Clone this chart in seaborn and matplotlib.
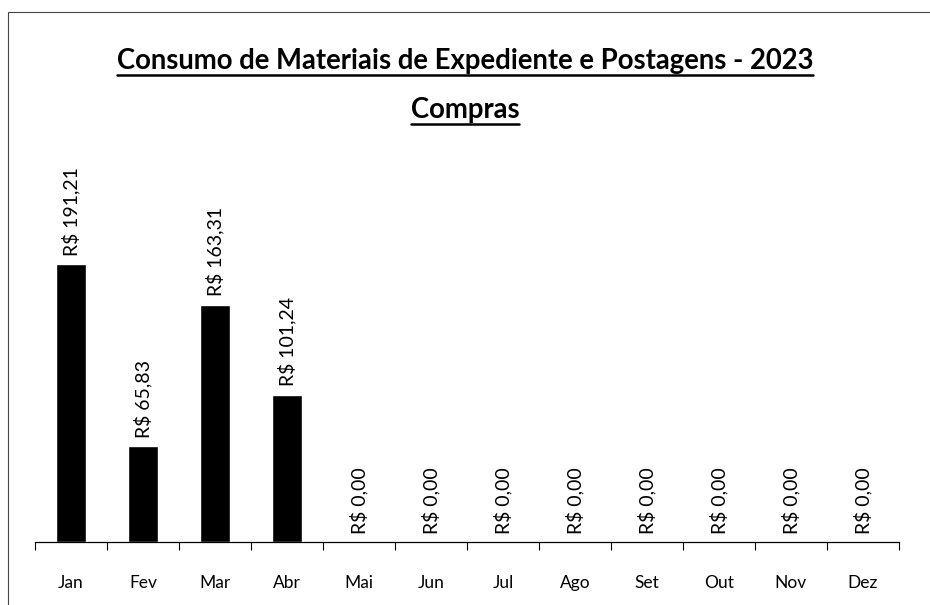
import matplotlib
matplotlib.use("Agg")
import matplotlib.pyplot as plt
import seaborn as sns
import numpy as np
from matplotlib.lines import Line2D
from matplotlib.patches import Rectangle

# --- dados ---
meses = ["Jan", "Fev", "Mar", "Abr", "Mai", "Jun", "Jul", "Ago", "Set", "Out", "Nov", "Dez"]
valores = [191.21, 65.83, 163.31, 101.24, 0, 0, 0, 0, 0, 0, 0, 0]
titulo = "Consumo de Materiais de Expediente e Postagens - 2023"
subtitulo = "Compras"

sns.set_theme(style="white")
plt.rcParams['font.family'] = ['Lato', 'DejaVu Sans']

fig = plt.figure(figsize=(9.3, 6.05), dpi=100)
ax = fig.add_axes([35 / 930, 63 / 605, 864 / 930, 330 / 605])

sns.barplot(x=meses, y=valores, color="black", width=0.43, saturation=1, ax=ax)

ax.set_ylim(0, 227)
ax.set_xlim(-0.5, len(meses) - 0.5)
ax.set_xlabel("")
ax.set_ylabel("")
ax.set_yticks([])
for lado in ["top", "right", "left"]:
    ax.spines[lado].set_visible(False)
ax.spines["bottom"].set_color("black")
ax.spines["bottom"].set_linewidth(0.9)

# marcas entre as categorias (estilo Excel)
ax.set_xticks(np.arange(-0.5, len(meses) + 0.5, 1), minor=True)
ax.tick_params(axis="x", which="minor", bottom=True, length=6, width=0.8, color="black", direction="out")
ax.tick_params(axis="x", which="major", length=0, labelsize=12.5, pad=24, colors="black")

# rotulos de valor
for i, v in enumerate(valores):
    texto = "R$ " + f"{v:.2f}".replace(".", ",")
    ax.annotate(texto, (i, v), xytext=(0, 6), textcoords="offset points",
                rotation=90, ha="center", va="bottom", fontsize=14, color="black")

# titulos sublinhados
t1 = fig.text(0.5, 1 - 61 / 605, titulo, ha="center", va="center",
              fontsize=19.8, fontweight="bold", color="black")
t2 = fig.text(0.5, 1 - 110 / 605, subtitulo, ha="center", va="center",
              fontsize=19.8, fontweight="bold", color="black")
fig.canvas.draw()
renderer = fig.canvas.get_renderer()
for t in (t1, t2):
    bb = t.get_window_extent(renderer).transformed(fig.transFigure.inverted())
    y = bb.y0 - 0.002
    fig.add_artist(Line2D([bb.x0, bb.x1], [y, y], color="black", linewidth=1.8,
                          transform=fig.transFigure))

# moldura do grafico
fig.add_artist(Rectangle((8 / 930, -0.01), 1.1, 1 - 12 / 605 + 0.01, transform=fig.transFigure,
                         fill=False, edgecolor="#444444", linewidth=0.8))

fig.savefig("out.png", dpi=100)
